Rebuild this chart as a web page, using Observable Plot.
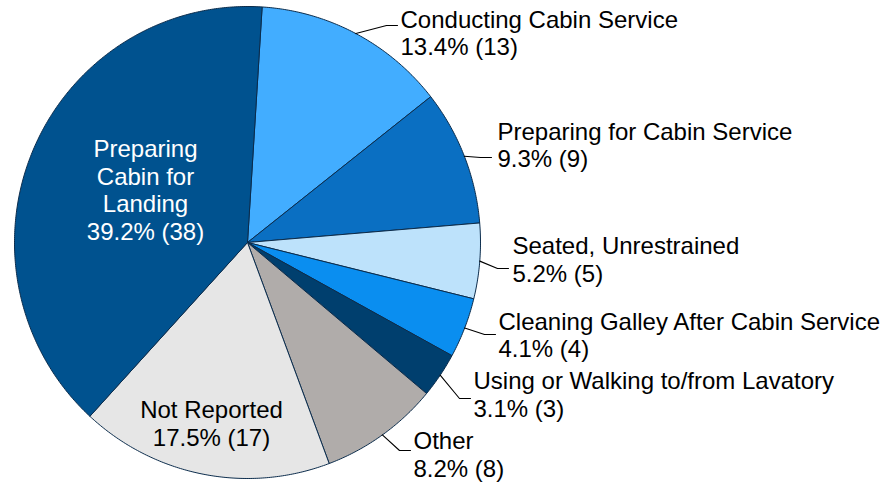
<!DOCTYPE html>
<html>
<head>
<meta charset="utf-8">
<script src="https://cdn.jsdelivr.net/npm/d3@7"></script>
<script src="https://cdn.jsdelivr.net/npm/@observablehq/plot@0.6"></script>
<style>
  html, body { margin: 0; padding: 0; background: #ffffff; }
  #chart { width: 885px; height: 482px; }
</style>
</head>
<body>
<div id="chart"></div>
<script>
// ---- data ----
const categories = [
  "Conducting Cabin Service",
  "Preparing for Cabin Service",
  "Seated, Unrestrained",
  "Cleaning Galley After Cabin Service",
  "Using or Walking to/from Lavatory",
  "Other",
  "Not Reported",
  "Preparing Cabin for Landing"
];
const counts = [13, 9, 5, 4, 3, 8, 17, 38];
const percentLabels = ["13.4%", "9.3%", "5.2%", "4.1%", "3.1%", "8.2%", "17.5%", "39.2%"];
const sliceColors = ["#42adff", "#0a6fc2", "#bde2fb", "#0a8ef0", "#003f6e", "#b0acaa", "#e6e6e6", "#00528f"];

// ---- layout (pixels) ----
const W = 885, H = 482;
const cx = 247, cy = 242, rx = 233, ry = 236;
const startDeg = 3.6;
const labelLayout = [
  {x: 400, y: 32,    anchor: "start",  end: [397, 25]},
  {x: 497, y: 144,   anchor: "start",  end: [491, 157]},
  {x: 512, y: 258.5, anchor: "start",  end: [508, 268]},
  {x: 498, y: 334,   anchor: "start",  end: [495, 334]},
  {x: 473, y: 393.5, anchor: "start",  end: [470, 398]},
  {x: 413, y: 453.5, anchor: "start",  end: [410, 450]},
  {x: 211, y: 422.5, anchor: "middle", end: null},
  {x: 145, y: 189,   anchor: "middle", end: null, lines: ["Preparing", "Cabin for", "Landing"], color: "#ffffff"}
];

const pie = d3.pie().sort(null)
  .startAngle(startDeg * Math.PI / 180)
  .endAngle(startDeg * Math.PI / 180 + 2 * Math.PI);
const arcs = pie(counts);

const px = a => cx + rx * Math.sin(a);
const py = a => cy - ry * Math.cos(a);

const slicePts = arcs.map((a) => {
  const pts = [{x: cx, y: cy}];
  const n = Math.max(8, Math.ceil((a.endAngle - a.startAngle) / (Math.PI / 360)));
  for (let k = 0; k <= n; k++) {
    const t = a.startAngle + (a.endAngle - a.startAngle) * k / n;
    pts.push({x: px(t), y: py(t)});
  }
  pts.push({x: cx, y: cy});
  return pts;
});

const leaders = [];
arcs.forEach((a, i) => {
  const L = labelLayout[i];
  if (!L.end) return;
  const mid = (a.startAngle + a.endAngle) / 2;
  leaders.push({k: i, x: px(mid), y: py(mid)});
  leaders.push({k: i, x: L.end[0] - 11, y: L.end[1]});
  leaders.push({k: i, x: L.end[0], y: L.end[1]});
});

const labels = categories.map((c, i) => {
  const L = labelLayout[i];
  const head = L.lines ? L.lines.join("\n") : c;
  return {
    x: L.x, y: L.y, anchor: L.anchor,
    text: head + "\n" + percentLabels[i] + " (" + counts[i] + ")",
    color: L.color || "#000000"
  };
});

const marks = [];
slicePts.forEach((pts, i) => {
  marks.push(Plot.line(pts, {x: "x", y: "y", fill: sliceColors[i], stroke: "#0b2c4c", strokeWidth: 1, strokeLinejoin: "round", curve: "linear"}));
});
marks.push(Plot.line(leaders, {x: "x", y: "y", z: "k", stroke: "#000000", strokeWidth: 1.1}));
for (const anchor of ["start", "middle"]) {
  marks.push(Plot.text(labels.filter(d => d.anchor === anchor), {
    x: "x", y: "y", text: "text", fill: "color",
    textAnchor: anchor, lineAnchor: "middle", lineHeight: 1.15,
    fontSize: 24, fontFamily: "Arial, 'Liberation Sans', sans-serif"
  }));
}

const chart = Plot.plot({
  width: W, height: H,
  margin: 0,
  x: {type: "linear", domain: [0, W], range: [0, W], axis: null},
  y: {type: "linear", domain: [0, H], range: [0, H], axis: null},
  style: {background: "#ffffff", fontFamily: "Arial, 'Liberation Sans', sans-serif"},
  marks
});
document.getElementById("chart").appendChild(chart);
</script>
</body>
</html>
